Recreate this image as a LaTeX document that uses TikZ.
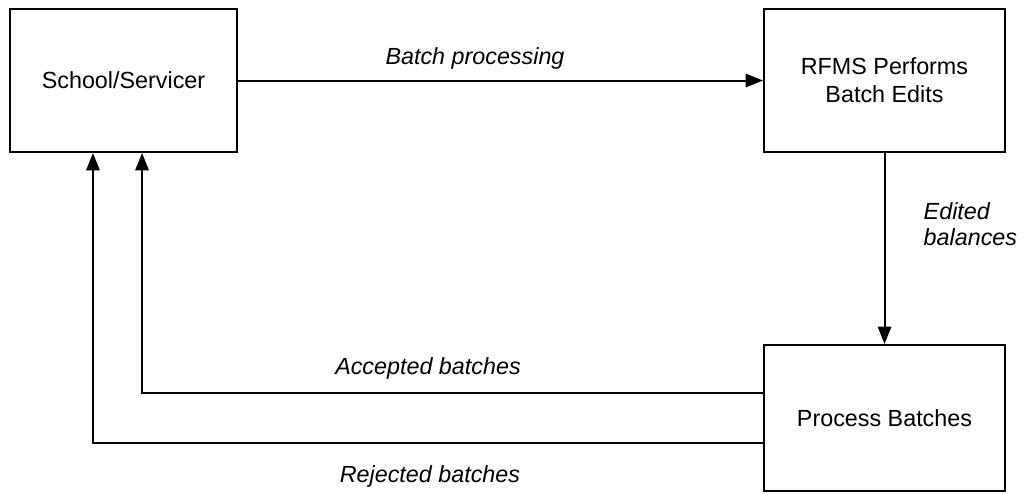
\documentclass[tikz,border=0pt]{standalone}
\usepackage{fontspec}
\setmainfont{Liberation Sans}
\usetikzlibrary{arrows.meta}

\tikzset{
  block/.style={draw, line width=1.5pt, align=center, font=\fontsize{17.5}{21}\selectfont},
  flow/.style={line width=1.5pt, -{Triangle[length=13pt,width=10pt]}},
  lbl/.style={font=\fontsize{17.5}{19}\selectfont\itshape}
}

\begin{document}
\begin{tikzpicture}[x=0.75pt,y=-0.75pt]
    \useasboundingbox (0,0) rectangle (1024,493);
    \node[block, minimum width=170.25pt, minimum height=107.25pt] (school) at (123.5,80.5) {School/Servicer};
    \node[block, minimum width=180.75pt, minimum height=107.25pt] (rfms) at (884.5,80.5) {RFMS Performs\\Batch Edits};
    \node[block, minimum width=180.75pt, minimum height=109.5pt] (proc) at (884.5,418) {Process Batches};
    \draw[flow] (school) -- (rfms);
    \draw[flow] (rfms) -- (proc);
    \draw[flow] ([yshift=18.75pt]proc.west) -| ([xshift=13.9pt]school.south);
    \draw[flow] ([yshift=-18.75pt]proc.west) -| ([xshift=-22.9pt]school.south);
    \node[lbl] (batchlbl) at (475,58) {Batch processing};
    \node[lbl, anchor=west, align=left] (editlbl) at (919,224) {Edited\\balances};
    \node[lbl] (acclbl) at (428,368) {Accepted batches};
    \node[lbl] (rejlbl) at (430,476) {Rejected batches};
      \end{tikzpicture}
\end{document}
